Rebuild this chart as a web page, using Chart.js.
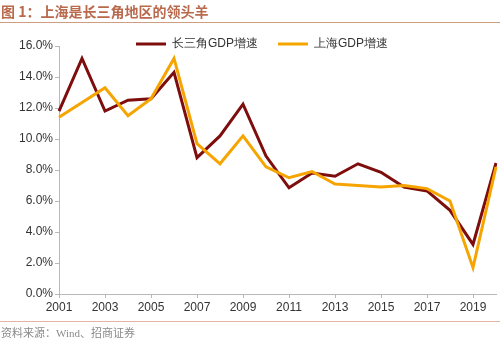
<!DOCTYPE html>
<html>
<head>
<meta charset="utf-8">
<script src="https://cdn.jsdelivr.net/npm/chart.js@4"></script>
<style>
  body { margin: 0; background: #fff; }
  #wrap { position: relative; width: 500px; height: 343px; overflow: hidden; }
  #title {
    position: absolute; left: 0; top: 0; width: 500px; height: 22px;
    border-bottom: 1px solid #cf9e80;
    font: bold 14px "Noto Sans CJK SC", sans-serif; color: #b9694c;
    line-height: 22px; padding-left: 1px;
  }
  #source {
    position: absolute; left: 0; top: 321px; width: 500px; height: 22px;
    border-top: 1px solid #e2b4aa;
    font: 11px "Liberation Serif", "Noto Sans CJK SC", serif; color: #8a8a8a;
    line-height: 22px; padding-left: 1px;
  }
  #chart { position: absolute; left: 0; top: 0; }
</style>
</head>
<body>
<div id="wrap">
  <canvas id="chart" width="500" height="343"></canvas>
  <div id="title">图 1：上海是长三角地区的领头羊</div>
  <div id="source">资料来源：Wind、招商证券</div>
</div>
<script>
const years = ['2001', '2002', '2003', '2004', '2005', '2006', '2007', '2008', '2009', '2010',
  '2011', '2012', '2013', '2014', '2015', '2016', '2017', '2018', '2019', '2020'];
// GDP growth, %
const deltaGrowth = [11.8, 15.2, 11.8, 12.5, 12.6, 14.3, 8.8, 10.2, 12.25, 8.9,
  6.85, 7.8, 7.6, 8.4, 7.85, 6.9, 6.65, 5.4, 3.2, 8.45];
const shanghaiGrowth = [11.4, 12.35, 13.3, 11.5, 12.6, 15.2, 9.7, 8.4, 10.2, 8.2,
  7.5, 7.9, 7.1, 7.0, 6.9, 7.0, 6.8, 6.0, 1.7, 8.2];
const yTicks = [0, 2, 4, 6, 8, 10, 12, 14, 16];

const axisColor = '#b8b8b8';
const labelFont = { family: '"Liberation Sans", Arial, sans-serif', size: 12 };

// nudge the legend down/right so it sits over the top of the plot
const legendShift = {
  id: 'legendShift',
  afterLayout(chart) {
    const lg = chart.legend;
    lg.top += 14; lg.bottom += 14;
    lg.left += 14; lg.right += 14;
  }
};

new Chart(document.getElementById('chart'), {
  type: 'line',
  data: {
    labels: years,
    datasets: [
      {
        label: '长三角GDP增速',
        data: deltaGrowth,
        borderColor: '#7e0d0d',
        backgroundColor: '#7e0d0d',
        borderWidth: 3,
        pointRadius: 0,
        order: 1,
      },
      {
        label: '上海GDP增速',
        data: shanghaiGrowth,
        borderColor: '#f6a400',
        backgroundColor: '#f6a400',
        borderWidth: 3,
        pointRadius: 0,
        order: 0,
      },
    ],
  },
  options: {
    responsive: false,
    animation: false,
    layout: { padding: { left: 0, right: 4, top: 4, bottom: 19 } },
    plugins: {
      tooltip: { enabled: false },
      legend: {
        position: 'top',
        labels: {
          boxWidth: 30,
          boxHeight: 3,
          padding: 20,
          color: '#333',
          font: labelFont,
          sort: (a, b) => a.datasetIndex - b.datasetIndex,
          generateLabels(chart) {
            return chart.data.datasets.map((ds, i) => ({
              text: ds.label,
              fillStyle: ds.borderColor,
              strokeStyle: ds.borderColor,
              lineWidth: 0,
              datasetIndex: i,
              hidden: false,
              fontColor: '#333',
            }));
          },
        },
      },
    },
    scales: {
      x: {
        offset: false,
        afterFit(scale) { scale.height = 30; },
        grid: { drawOnChartArea: false, drawTicks: true, tickLength: 4, color: axisColor },
        border: { color: axisColor },
        ticks: {
          autoSkip: false,
          maxRotation: 0,
          padding: 2,
          color: '#333',
          font: labelFont,
          callback(v, i) { return i % 2 === 0 ? years[i] : null; },
        },
      },
      y: {
        min: 0,
        max: 16,
        afterFit(scale) { scale.width = 59; },
        afterBuildTicks(scale) { scale.ticks = yTicks.map(v => ({ value: v })); },
        grid: { drawOnChartArea: false, drawTicks: true, tickLength: 4, color: axisColor },
        border: { color: axisColor },
        ticks: {
          padding: 2,
          color: '#333',
          font: labelFont,
          callback: v => v.toFixed(1) + '%',
        },
      },
    },
  },
  plugins: [legendShift],
});
</script>
</body>
</html>
